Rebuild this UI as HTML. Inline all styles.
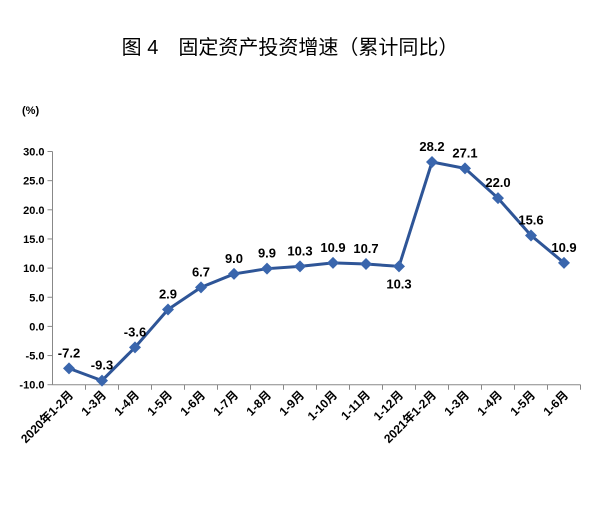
<!DOCTYPE html>
<html><head><meta charset="utf-8"><style>
body{margin:0;background:#fff;}
svg text{font-family:"Liberation Sans","Noto Sans CJK SC",sans-serif;}
</style></head><body>
<svg width="600" height="500" id="c">
<text x="290" y="54" text-anchor="middle" font-size="20" fill="#000">图 4　固定资产投资增速（累计同比）</text>
<text x="22" y="114" font-size="11" font-weight="bold" fill="#000">(%)</text>
<g id="axes"></g><g id="marks"></g>
</svg>
<script>
const categories=["2020年1-2月","1-3月","1-4月","1-5月","1-6月","1-7月","1-8月","1-9月","1-10月","1-11月","1-12月","2021年1-2月","1-3月","1-4月","1-5月","1-6月"];
const values=[-7.2,-9.3,-3.6,2.9,6.7,9.0,9.9,10.3,10.9,10.7,10.3,28.2,27.1,22.0,15.6,10.9];
const yTicks=[30,25,20,15,10,5,0,-5,-10];
const NS="http://www.w3.org/2000/svg";
const x0=52.5,step=33,yTop=151.5,yBot=384.7,vMax=30,vMin=-10;
const X=i=>x0+step*(i+0.5);
const Y=v=>yTop+(vMax-v)/(vMax-vMin)*(yBot-yTop);
function mk(t,a,p){const e=document.createElementNS(NS,t);for(const k in a)e.setAttribute(k,a[k]);p.appendChild(e);return e;}
const ax=document.getElementById('axes'),mg=document.getElementById('marks');
let e=mk('line',{x1:x0,y1:yTop,x2:x0,y2:yBot,stroke:'#888'},ax);


e=mk('line',{x1:x0,y1:yBot,x2:x0+step*categories.length,y2:yBot,stroke:'#888'},ax);


yTicks.forEach(v=>{
 mk('line',{x1:x0-5,y1:Y(v),x2:x0,y2:Y(v),stroke:'#888'},ax);
 const t=mk('text',{x:x0-8,y:Y(v)+4,'text-anchor':'end','font-size':'11','font-weight':'bold',fill:'#000'},ax);
 t.textContent=v.toFixed(1);
 
 
});
categories.forEach((c,i)=>{
 mk('line',{x1:x0+step*(i+1),y1:yBot,x2:x0+step*(i+1),y2:yBot+5,stroke:'#888'},ax);
 const tx=X(i)+5,ty=yBot+11;
 const t=mk('text',{x:tx,y:ty,'text-anchor':'end','font-size':'12','font-weight':'bold',fill:'#000',transform:`rotate(-45 ${tx} ${ty})`},ax);
 t.textContent=c;
 
 
});
const pl=mk('polyline',{points:values.map((v,i)=>X(i)+','+Y(v)).join(' '),fill:'none',stroke:'#2e5597','stroke-width':'3'},mg);


values.forEach((v,i)=>{
 const x=X(i),y=Y(v);
 const d=mk('polygon',{points:`${x},${y-6} ${x+6},${y} ${x},${y+6} ${x-6},${y}`,fill:'#3a66ad'},mg);
 
 
 let ly=y-11, lx=x;
 if(i===10){ly=y+22;}
 const t=mk('text',{x:lx,y:ly,'text-anchor':'middle','font-size':'13','font-weight':'bold',fill:'#000'},mg);
 t.textContent=v.toFixed(1);
 
 
});
</script>
</body></html>
